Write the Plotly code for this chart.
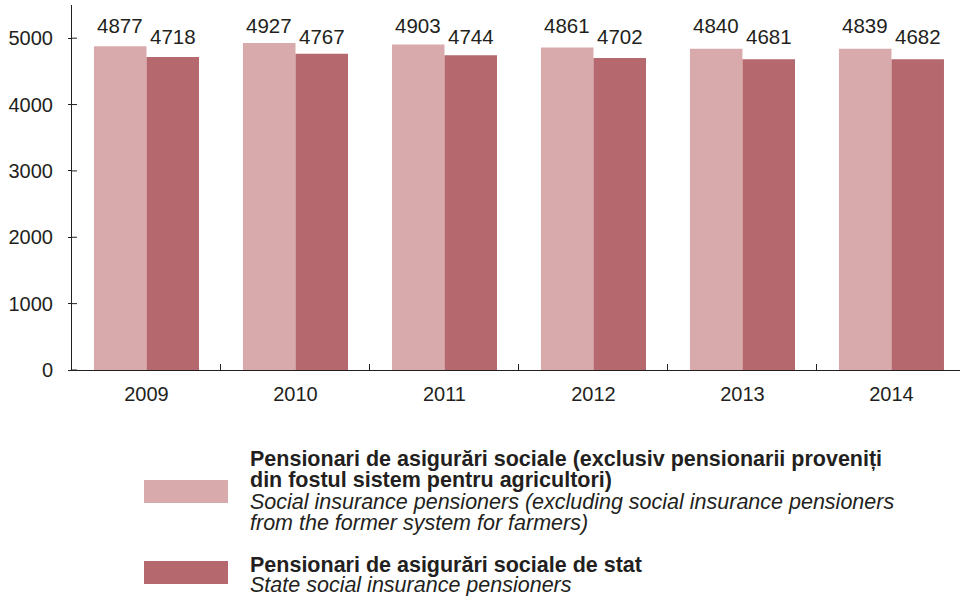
import plotly.graph_objects as go

years = ["2009", "2010", "2011", "2012", "2013", "2014"]
pensionari_excl = [4877, 4927, 4903, 4861, 4840, 4839]
pensionari_stat = [4718, 4767, 4744, 4702, 4681, 4682]
y_ticks = [0, 1000, 2000, 3000, 4000, 5000]

light = "#D9AAAB"
dark = "#B5686D"
ink = "#231F20"
font = "Liberation Sans, Arial, Helvetica, sans-serif"

W, H = 960, 596
L, R, T, B = 72, 0, 5, 226
plot_w = W - L - R
plot_h = H - T - B


def px_x(px):
    return (px - L) / plot_w


def px_y(py):
    return (H - B - py) / plot_h


fig = go.Figure()
fig.add_trace(go.Bar(x=years, y=pensionari_excl, marker_color=light,
                     marker_line_width=0, showlegend=False))
fig.add_trace(go.Bar(x=years, y=pensionari_stat, marker_color=dark,
                     marker_line_width=0, showlegend=False))

annotations = []
half = 0.1763
for i in range(len(years)):
    annotations.append(dict(x=i - half, y=px_y(25), xref="x", yref="paper",
                            text=str(pensionari_excl[i]), showarrow=False,
                            yanchor="middle", font=dict(size=20.5, color=ink, family=font)))
    annotations.append(dict(x=i + half, y=px_y(37), xref="x", yref="paper",
                            text=str(pensionari_stat[i]), showarrow=False,
                            yanchor="middle", font=dict(size=20.5, color=ink, family=font)))

# Short tick stubs on the inner side of the value axis
shapes = [
    dict(type="line", xref="paper", yref="y", x0=0, x1=5 / plot_w, y0=v, y1=v,
         line=dict(color=ink, width=1))
    for v in y_ticks
]

# Legend drawn below the chart
shapes += [
    dict(type="rect", xref="paper", yref="paper", x0=px_x(144), x1=px_x(228),
         y0=px_y(503), y1=px_y(480), fillcolor=light, line_width=0),
    dict(type="rect", xref="paper", yref="paper", x0=px_x(144), x1=px_x(228),
         y0=px_y(584), y1=px_y(561), fillcolor=dark, line_width=0),
]

legend_lines = [
    ("<b>Pensionari de asigurări sociale (exclusiv pensionarii proveniți</b>", 458.5),
    ("<b>din fostul sistem pentru agricultori)</b>", 480),
    ("<i>Social insurance pensioners (excluding social insurance pensioners</i>", 501.5),
    ("<i>from the former system for farmers)</i>", 522.5),
    ("<b>Pensionari de asigurări sociale de stat</b>", 564.5),
    ("<i>State social insurance pensioners</i>", 584.5),
]
for text, py in legend_lines:
    annotations.append(dict(x=px_x(248), y=px_y(py), xref="paper", yref="paper",
                            text=text, showarrow=False, xanchor="left", yanchor="middle",
                            font=dict(size=21.5, color=ink, family=font)))

fig.update_layout(
    width=W, height=H,
    margin=dict(l=L, r=R, t=T, b=B),
    barmode="group", bargap=0.295, bargroupgap=0,
    plot_bgcolor="white", paper_bgcolor="white",
    font=dict(family=font, color=ink, size=20),
    annotations=annotations, shapes=shapes,
)
fig.update_xaxes(
    type="category", range=[-0.5, 5.46],
    showline=True, linecolor=ink, linewidth=1,
    ticks="inside", tickson="boundaries", ticklen=6, tickcolor=ink,
    showgrid=False, tickfont=dict(size=20, color=ink, family=font),
    ticklabelstandoff=6,
)
fig.update_yaxes(
    range=[0, 5500], tickvals=y_ticks,
    showline=True, linecolor=ink, linewidth=1,
    ticks="outside", ticklen=3, tickcolor=ink,
    showgrid=False, zeroline=False,
    tickfont=dict(size=20, color=ink, family=font),
    ticklabelstandoff=11,
)

fig.write_html("out.html")
